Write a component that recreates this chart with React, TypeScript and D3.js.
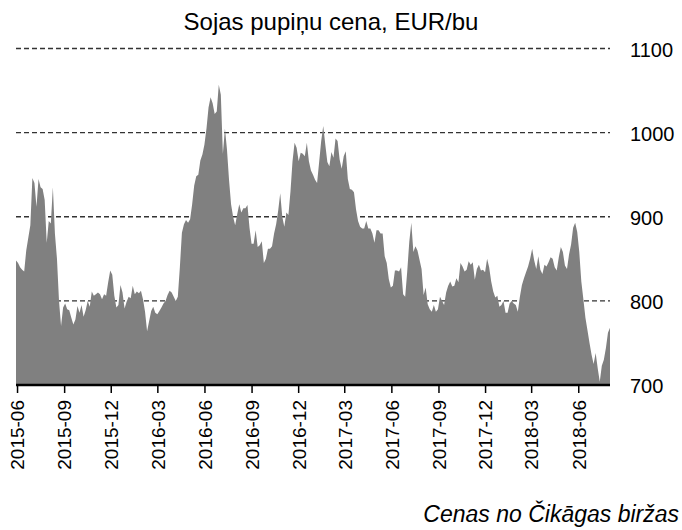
import * as d3 from "d3";

// soybean price, EUR/bu, sampled every 4 days from 2015-05-29
const startDate = new Date(Date.UTC(2015, 4, 29));
const stepDays = 4;
const prices = [
  848, 845, 840, 837, 835, 860, 875, 890, 946, 940,
  912, 945, 935, 933, 920, 869, 895, 892, 935, 880,
  850, 800, 770, 792, 797, 790, 789, 780, 772, 778,
  794, 786, 795, 781, 789, 800, 793, 811, 806, 808,
  810, 808, 802, 808, 806, 822, 836, 831, 806, 792,
  795, 819, 810, 791, 799, 805, 803, 818, 808, 811,
  809, 812, 802, 787, 764, 776, 788, 793, 786, 784,
  788, 792, 797, 800, 807, 812, 810, 805, 800, 805,
  840, 881, 891, 896, 893, 897, 915, 937, 948, 950,
  967, 974, 986, 1005, 1030, 1042, 1035, 1022, 1025, 1057,
  1045, 975, 1005, 980, 944, 915, 900, 890, 903, 915,
  905, 910, 910, 914, 887, 868, 868, 884, 864, 866,
  871, 845, 850, 862, 862, 865, 880, 891, 907, 928,
  900, 888, 905, 902, 930, 966, 988, 982, 966, 976,
  975, 972, 988, 966, 955, 950, 944, 940, 965, 990,
  1008, 986, 965, 960, 977, 970, 993, 990, 968, 957,
  972, 978, 945, 933, 932, 929, 909, 895, 888, 886,
  886, 895, 886, 886, 880, 869, 884, 884, 880, 880,
  853, 845, 826, 816, 818, 836, 836, 835, 840, 808,
  805, 835, 870, 893, 858, 865, 860, 849, 838, 807,
  816, 796, 790, 787, 795, 787, 790, 805, 800, 795,
  810, 818, 823, 817, 818, 827, 822, 845, 841, 835,
  837, 847, 843, 846, 825, 838, 843, 836, 837, 834,
  850, 840, 823, 811, 804, 806, 793, 795, 800, 786,
  786, 797, 800, 797, 795, 787, 805, 819, 827, 834,
  841, 850, 862, 848, 838, 853, 837, 832, 843, 841,
  846, 852, 850, 840, 836, 852, 864, 858, 842, 838,
  855, 867, 887, 893, 882, 858, 823, 802, 780, 765,
  750, 736, 725, 738, 720, 704, 723, 730, 744, 762,
  768,
];

const tickLabels = [
  "2015-06", "2015-09", "2015-12", "2016-03", "2016-06", "2016-09", "2016-12",
  "2017-03", "2017-06", "2017-09", "2017-12", "2018-03", "2018-06",
];
const yTicks = [700, 800, 900, 1000, 1100];
const gridTicks = [800, 900, 1000, 1100];

const title = "Sojas pupiņu cena, EUR/bu";
const caption = "Cenas no Čikāgas biržas";

const font = "'Liberation Sans', Arial, sans-serif";

export default function App() {
  const width = 682;
  const height = 530;

  const data = prices.map((v, i) => ({
    date: d3.utcDay.offset(startDate, i * stepDays),
    value: v,
  }));

  const x = d3
    .scaleUtc()
    .domain(d3.extent(data, (d) => d.date) as [Date, Date])
    .range([16, 610]);
  const y = d3.scaleLinear().domain([700, 1100]).range([385, 48.5]);

  const area = d3
    .area<{ date: Date; value: number }>()
    .x((d) => x(d.date))
    .y0(y(700))
    .y1((d) => y(d.value));

  const parseMonth = d3.utcParse("%Y-%m");
  const [x0, x1] = x.range();

  return (
    <svg
      width={width}
      height={height}
      style={{ position: "absolute", left: 0, top: 0, fontFamily: font }}
    >
      <rect width={width} height={height} fill="#fff" />

      {/* grid */}
      {gridTicks.map((t) => (
        <line
          key={t}
          x1={x0}
          x2={x1}
          y1={y(t)}
          y2={y(t)}
          stroke="#333"
          strokeWidth={1.4}
          strokeDasharray="5,3"
        />
      ))}

      <path d={area(data) ?? ""} fill="#808080" />

      {/* x axis */}
      <line x1={x0} x2={x1} y1={y(700)} y2={y(700)} stroke="#000" strokeWidth={2.5} />
      {tickLabels.map((lbl) => {
        const tx = x(parseMonth(lbl) as Date);
        return (
          <g key={lbl}>
            <line x1={tx} x2={tx} y1={y(700)} y2={y(700) + 8} stroke="#000" strokeWidth={1.5} />
            <text
              transform={`translate(${tx},400) rotate(-90)`}
              textAnchor="end"
              dy="0.36em"
              fontSize={19}
              fill="#000"
            >
              {lbl}
            </text>
          </g>
        );
      })}

      {/* y labels on the right */}
      {yTicks.map((t) => (
        <text
          key={t}
          x={630}
          y={y(t) + 1}
          dy="0.36em"
          fontSize={20}
          fill="#000"
        >
          {t}
        </text>
      ))}

      <text x={331} y={30} textAnchor="middle" fontSize={24} fill="#000">
        {title}
      </text>
      <text
        x={679}
        y={522}
        textAnchor="end"
        fontSize={23}
        fontStyle="italic"
        fill="#000"
      >
        {caption}
      </text>
    </svg>
  );
}
